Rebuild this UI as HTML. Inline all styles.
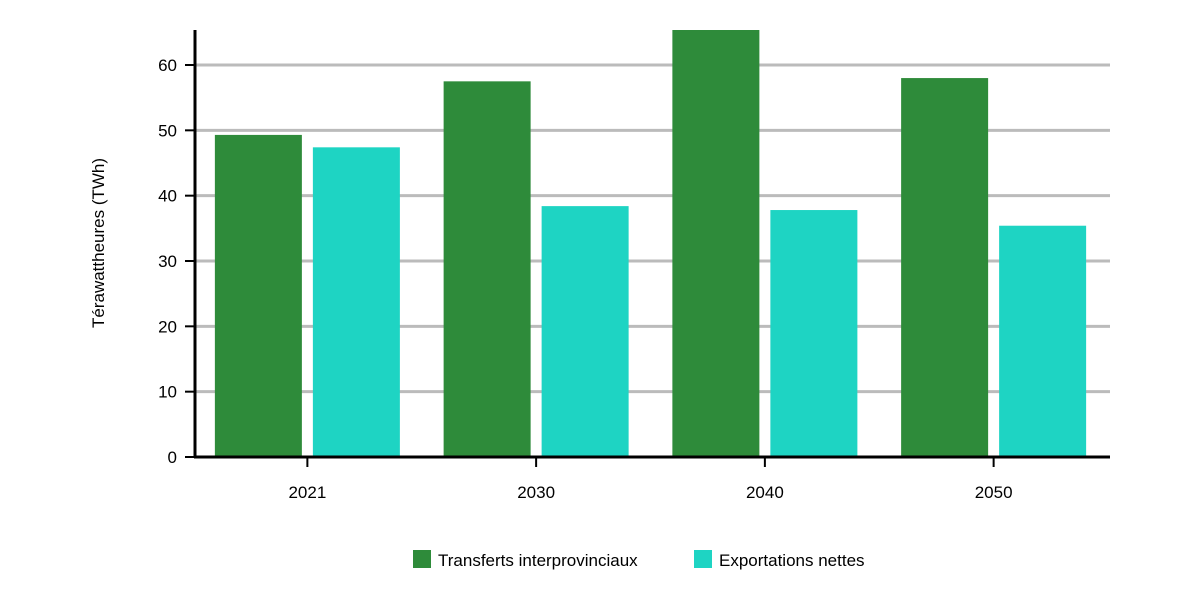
<!DOCTYPE html>
<html><head><meta charset="utf-8"><style>
body{margin:0;background:#fff;font-family:"Liberation Sans",sans-serif}
svg text{font-family:"Liberation Sans",sans-serif}
</style></head><body>
<svg id="chart" width="1200" height="600" xmlns="http://www.w3.org/2000/svg">
<g id="grid"></g>
<g id="bars"></g>
<g id="axes"></g>
<text transform="translate(104,243) rotate(-90)" text-anchor="middle" font-size="17" fill="#000">Térawattheures (TWh)</text>
<g>
<rect x="413" y="550" width="18" height="18" fill="#2e8b3a"/>
<text x="438" y="566" font-size="17">Transferts interprovinciaux</text>
<rect x="694" y="550" width="18" height="18" fill="#1ed4c3"/>
<text x="719" y="566" font-size="17">Exportations nettes</text>
</g>
</svg>
<script>
const categories=["2021","2030","2040","2050"];
const transferts=[49.3,57.5,65.4,58.0];
const exportations=[47.4,38.4,37.8,35.4];
const yTicks=[0,10,20,30,40,50,60];
const ns="http://www.w3.org/2000/svg";
const x0=195,x1=1110,yBase=457,yTop=30,pxPerUnit=392/60;
const y=v=>Math.max(yTop,yBase-v*pxPerUnit);
const band=(x1-x0)/categories.length;
const cx=i=>x0+band*(i+0.5)-2;
function mk(tag,attrs,parent){const e=document.createElementNS(ns,tag);for(const k in attrs)e.setAttribute(k,attrs[k]);parent.appendChild(e);return e;}
const grid=document.getElementById('grid'),bars=document.getElementById('bars'),axes=document.getElementById('axes');
yTicks.forEach(t=>{
 if(t>0){const l=mk('line',{x1:x0,x2:x1,y1:y(t),y2:y(t),stroke:'#bbb','stroke-width':3},grid);
 
 }
 const tk=mk('line',{x1:x0-10,x2:x0,y1:y(t),y2:y(t),stroke:'#000','stroke-width':2},axes);
 
 
 const tx=mk('text',{x:x0-18,y:y(t)+6,'text-anchor':'end','font-size':17},axes);
 tx.textContent=t;
 
 
});
const bw=87,gap=11;
categories.forEach((c,i)=>{
 const g=mk('rect',{x:cx(i)-gap/2-bw,y:y(transferts[i]),width:bw,height:yBase-y(transferts[i]),fill:'#2e8b3a'},bars);
 
 
 const b=mk('rect',{x:cx(i)+gap/2,y:y(exportations[i]),width:bw,height:yBase-y(exportations[i]),fill:'#1ed4c3'},bars);
 
 
 const tk=mk('line',{x1:cx(i),x2:cx(i),y1:yBase,y2:yBase+10,stroke:'#000','stroke-width':2},axes);
 
 
 const tx=mk('text',{x:cx(i),y:498,'text-anchor':'middle','font-size':17},axes);
 tx.textContent=c;
 
 
});
const ya=mk('line',{x1:x0,x2:x0,y1:yTop,y2:yBase+1,stroke:'#000','stroke-width':3},axes);


const xa=mk('line',{x1:x0-1,x2:x1,y1:yBase,y2:yBase,stroke:'#000','stroke-width':3},axes);


</script>
</body></html>
